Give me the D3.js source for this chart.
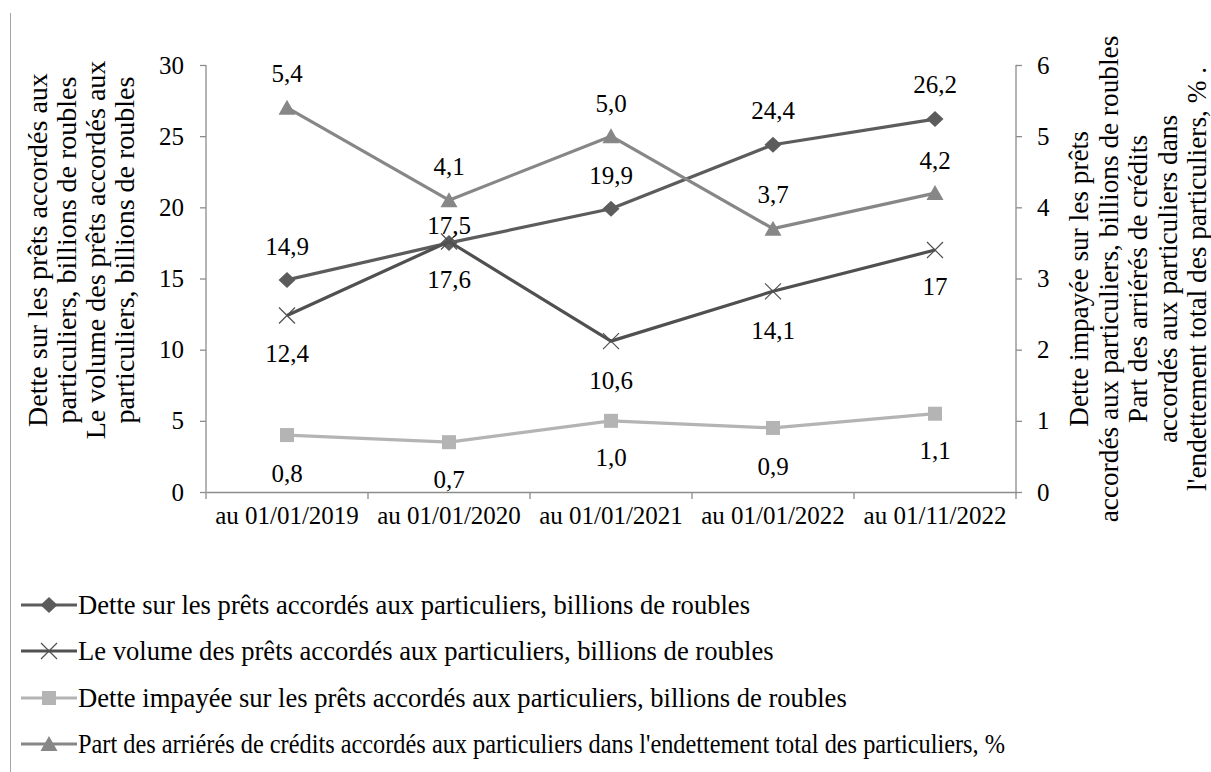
<!DOCTYPE html>
<html>
<head>
<meta charset="utf-8">
<script src="https://cdn.jsdelivr.net/npm/d3@7"></script>
<style>
  body { margin: 0; background: #fff; }
  text { font-family: "Liberation Serif", "Times New Roman", serif; fill: #000; }
</style>
</head>
<body>
<div id="chart"></div>
<script>
const w = 1211;
const h = 772;

const categories = ["au 01/01/2019", "au 01/01/2020", "au 01/01/2021", "au 01/01/2022", "au 01/11/2022"];
const debt = [14.9, 17.5, 19.9, 24.4, 26.2];
const volume = [12.4, 17.6, 10.6, 14.1, 17];
const unpaid = [0.8, 0.7, 1.0, 0.9, 1.1];
const share = [5.4, 4.1, 5.0, 3.7, 4.2];
const leftTicks = [0, 5, 10, 15, 20, 25, 30];
const rightTicks = [0, 1, 2, 3, 4, 5, 6];

const legendNames = [
    "Dette sur les prêts accordés aux particuliers, billions de roubles",
    "Le volume des prêts accordés aux particuliers, billions de roubles",
    "Dette impayée sur les prêts accordés aux particuliers, billions de roubles",
    "Part des arriérés de crédits accordés aux particuliers dans l'endettement total des particuliers, %"
];
const leftTitle = [
    "Dette sur les prêts accordés aux",
    "particuliers, billions de roubles",
    "Le volume des prêts accordés aux",
    "particuliers, billions de roubles"
];
const rightTitle = [
    "Dette impayée sur les prêts",
    "accordés aux particuliers, billions de roubles",
    "Part des arriérés de crédits",
    "accordés aux particuliers dans",
    "l'endettement total des particuliers, % ."
];

const plotLeft = 206, plotRight = 1016, plotTop = 65, plotBottom = 492;
const axisColor = "#8c8c8c";
const fontSize = "25px";

const xScale = d3.scaleBand().domain(categories).range([plotLeft, plotRight]);
const yLeft = d3.scaleLinear().domain([0, 30]).range([plotBottom, plotTop]);
const yRight = d3.scaleLinear().domain([0, 6]).range([plotBottom, plotTop]);

const fmt1 = v => v.toFixed(1).replace(".", ",");
const fmtRaw = v => String(v).replace(".", ",");

// label offsets (px): above / below the point, with one nudge where labels crowd
const series = [
    { values: debt, y: yLeft, color: "#5c5c5c", marker: "diamond", dy: [-34, -18, -34, -34, -35], fmt: fmt1 },
    { values: volume, y: yLeft, color: "#505050", marker: "cross", dy: [38, 38, 39, 39, 36], fmt: fmtRaw },
    { values: unpaid, y: yRight, color: "#b4b4b4", marker: "square", dy: [38, 37, 36, 38, 37], fmt: fmt1 },
    { values: share, y: yRight, color: "#878787", marker: "triangle", dy: [-34, -34, -33, -34, -33], fmt: fmt1 }
];

const svg = d3.select("#chart").append("svg")
    .attr("width", w)
    .attr("height", h);

// left border line
svg.append("line")
    .attr("x1", 10.5).attr("x2", 10.5)
    .attr("y1", 13).attr("y2", h)
    .attr("stroke", "#a6a6a6").attr("stroke-width", 1);

// axes
const yAxisL = svg.append("g")
    .attr("transform", "translate(" + plotLeft + ",0)")
    .call(d3.axisLeft(yLeft).tickValues(leftTicks).tickSize(6).tickPadding(16));
const yAxisR = svg.append("g")
    .attr("transform", "translate(" + plotRight + ",0)")
    .call(d3.axisRight(yRight).tickValues(rightTicks).tickFormat(d3.format("d")).tickSize(6).tickPadding(15));
const xAxis = svg.append("g")
    .attr("transform", "translate(0," + plotBottom + ")")
    .call(d3.axisBottom(xScale).tickSize(0).tickPadding(14));

[yAxisL, yAxisR, xAxis].forEach(g => {
    g.select(".domain").attr("stroke", axisColor).attr("stroke-width", 1.3);
    g.selectAll(".tick line").attr("stroke", axisColor).attr("stroke-width", 1.3);
    g.selectAll("text").style("font-size", fontSize).attr("fill", "#000");
});
yAxisL.select(".domain").attr("d", "M0," + plotTop + "V" + plotBottom);
yAxisR.select(".domain").attr("d", "M0," + plotTop + "V" + plotBottom);

// x boundary ticks
const bounds = categories.map(c => xScale(c)).concat([plotRight]);
svg.append("g").selectAll("line")
    .data(bounds)
    .enter()
    .append("line")
    .attr("x1", d => d).attr("x2", d => d)
    .attr("y1", plotBottom).attr("y2", plotBottom + 7)
    .attr("stroke", axisColor).attr("stroke-width", 1.3);

// axis titles
svg.append("g")
    .selectAll("text")
    .data(leftTitle)
    .enter()
    .append("text")
    .attr("transform", (d, i) => "translate(" + (47 + i * 29) + ",250) rotate(-90)")
    .attr("text-anchor", "middle")
    .style("font-size", "28px")
    .text(d => d);

svg.append("g")
    .selectAll("text")
    .data(rightTitle)
    .enter()
    .append("text")
    .attr("transform", (d, i) => "translate(" + (1088 + i * 29.5) + ",279) rotate(-90)")
    .attr("text-anchor", "middle")
    .style("font-size", "27.3px")
    .text(d => d);

const cx = i => xScale(categories[i]) + xScale.bandwidth() / 2;

function drawMarker(g, type, color, x, y) {
    if (type === "diamond") {
        g.append("path").attr("d", `M${x},${y - 8}L${x + 8.5},${y}L${x},${y + 8}L${x - 8.5},${y}Z`).attr("fill", color);
    } else if (type === "cross") {
        g.append("path").attr("d", `M${x - 8},${y - 8}L${x + 8},${y + 8}M${x - 8},${y + 8}L${x + 8},${y - 8}`)
            .attr("stroke", color).attr("stroke-width", 1.2).attr("fill", "none");
    } else if (type === "square") {
        g.append("rect").attr("x", x - 7).attr("y", y - 7).attr("width", 14).attr("height", 14).attr("fill", color);
    } else {
        g.append("path").attr("d", `M${x},${y - 8}L${x + 8.5},${y + 7}L${x - 8.5},${y + 7}Z`).attr("fill", color);
    }
}

series.forEach(s => {
    const line = d3.line().x((d, i) => cx(i)).y(d => s.y(d));
    svg.append("path")
        .datum(s.values)
        .attr("d", line)
        .attr("fill", "none")
        .attr("stroke", s.color)
        .attr("stroke-width", 3.2)
        .attr("stroke-linejoin", "round");
    const g = svg.append("g");
    s.values.forEach((v, i) => drawMarker(g, s.marker, s.color, cx(i), s.y(v)));
});

// data labels
series.forEach(s => {
    svg.append("g").selectAll("text")
        .data(s.values)
        .enter()
        .append("text")
        .attr("x", (d, i) => cx(i))
        .attr("y", (d, i) => s.y(d) + s.dy[i])
        .attr("dy", "0.35em")
        .attr("text-anchor", "middle")
        .style("font-size", fontSize)
        .text(d => s.fmt(d));
});

// legend (long entries are squeezed to fit, like the original)
const legend = svg.append("g");
const legendY = [605, 651, 698, 744];
const legendMaxW = 927;
series.forEach((s, i) => {
    const y = legendY[i];
    legend.append("line")
        .attr("x1", 21).attr("x2", 77)
        .attr("y1", y).attr("y2", y)
        .attr("stroke", s.color).attr("stroke-width", 3.2);
    drawMarker(legend, s.marker, s.color, 49, y);
    const t = legend.append("text")
        .attr("x", 78)
        .attr("y", y)
        .attr("dy", "0.35em")
        .style("font-size", "26.6px")
        .text(legendNames[i]);
    if (t.node().getComputedTextLength() > legendMaxW) {
        t.attr("textLength", legendMaxW).attr("lengthAdjust", "spacingAndGlyphs");
    }
});
</script>
</body>
</html>
